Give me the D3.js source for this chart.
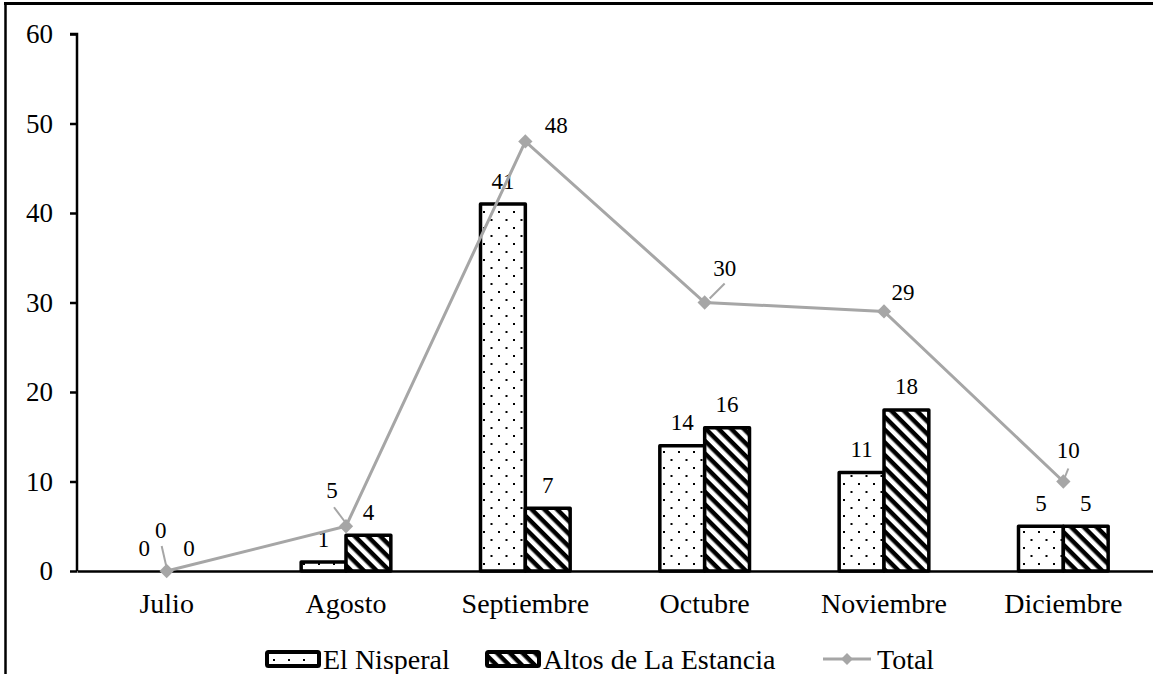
<!DOCTYPE html>
<html>
<head>
<meta charset="utf-8">
<script src="https://cdn.jsdelivr.net/npm/d3@7/dist/d3.min.js"></script>
<style>
  html, body { margin: 0; padding: 0; background: #fff; }
</style>
</head>
<body>
<svg id="chart" width="1153" height="674"></svg>
<script>
// Monthly counts per site, with the combined total
const months = ["Julio", "Agosto", "Septiembre", "Octubre", "Noviembre", "Diciembre"];
const nisperal = [0, 1, 41, 14, 11, 5];
const altos = [0, 4, 7, 16, 18, 5];
const total = [0, 5, 48, 30, 29, 10];
const yTicks = [0, 10, 20, 30, 40, 50, 60];
const seriesNames = ["El Nisperal", "Altos de La Estancia", "Total"];

const FONT = '"Liberation Serif"';
const svg = d3.select("#chart");
const W = 1153, H = 674;
const margin = { left: 77, right: 0, top: 34, bottom: 103 };

// Frame lines (left and top)
svg.append("line").attr("x1", 5.5).attr("x2", 5.5).attr("y1", 2).attr("y2", H)
  .attr("stroke", "#000").attr("stroke-width", 2.5);
svg.append("line").attr("x1", 4).attr("x2", W).attr("y1", 3.5).attr("y2", 3.5)
  .attr("stroke", "#000").attr("stroke-width", 3);

const x = d3.scaleBand().domain(months).range([margin.left, W - margin.right]).paddingInner(0).paddingOuter(0);
const y = d3.scaleLinear().domain([0, 60]).range([H - margin.bottom, margin.top]);
const barW = x.bandwidth() * 0.25;

// Fill patterns
const defs = svg.append("defs");
const dots = defs.append("pattern").attr("id", "dots").attr("patternUnits", "userSpaceOnUse")
  .attr("width", 15).attr("height", 16);
dots.append("rect").attr("width", 15).attr("height", 16).attr("fill", "#fff");
dots.append("rect").attr("x", 3).attr("y", 3).attr("width", 2).attr("height", 2).attr("fill", "#000");
dots.append("rect").attr("x", 10.5).attr("y", 11).attr("width", 2).attr("height", 2).attr("fill", "#000");

const stripes = defs.append("pattern").attr("id", "stripes").attr("patternUnits", "userSpaceOnUse")
  .attr("width", 9).attr("height", 9).attr("patternTransform", "rotate(45)");
stripes.append("rect").attr("width", 9).attr("height", 9).attr("fill", "#fff");
stripes.append("rect").attr("x", 0).attr("y", 0).attr("width", 9).attr("height", 4.5).attr("fill", "#000");

// Y axis
const yAxis = d3.axisLeft(y).tickValues(yTicks).tickSize(7).tickPadding(17);
const gy = svg.append("g").attr("transform", `translate(${margin.left},0)`).call(yAxis)
  .attr("font-family", null).attr("font-size", null);
gy.select(".domain").attr("stroke", "#000").attr("stroke-width", 2.5).attr("d", `M-7,${y(60)}H0V${y(0)}`);
gy.selectAll(".tick line").attr("stroke", "#000").attr("stroke-width", 2.5);
gy.selectAll(".tick text").style("font-size", "27px");

// Bars
const bars = svg.append("g");
const barStroke = 3.5;
function drawBars(vals, offset, fill) {
  bars.selectAll(null).data(months.map((m, i) => ({ m, v: vals[i] })).filter(d => d.v > 0))
    .enter().append("rect")
    .attr("x", d => x(d.m) + x.bandwidth() / 2 + offset)
    .attr("y", d => y(d.v))
    .attr("width", barW)
    .attr("height", d => y(0) - y(d.v))
    .attr("fill", fill)
    .attr("stroke", "#000")
    .attr("stroke-width", barStroke)
    .attr("stroke-linejoin", "round");
}
drawBars(nisperal, -barW, "url(#dots)");
drawBars(altos, 0, "url(#stripes)");

// X axis baseline
const xAxis = d3.axisBottom(x).tickSize(0).tickPadding(22);
const gx = svg.append("g").attr("transform", `translate(0,${y(0)})`).call(xAxis)
  .attr("font-family", null).attr("font-size", null);
gx.select(".domain").attr("stroke", "#000").attr("stroke-width", 2.5);
gx.selectAll(".tick text").style("font-size", "28px");

// Bar value labels
const labelSize = "23px";
months.forEach((m, i) => {
  const cx = x(m) + x.bandwidth() / 2;
  svg.append("text").attr("x", cx - barW / 2).attr("y", y(nisperal[i]) - 23).attr("text-anchor", "middle")
    .attr("dominant-baseline", "central").style("font-size", labelSize).text(nisperal[i]);
  svg.append("text").attr("x", cx + barW / 2).attr("y", y(altos[i]) - 23).attr("text-anchor", "middle")
    .attr("dominant-baseline", "central").style("font-size", labelSize).text(altos[i]);
});

// Total line
const grey = "#a6a6a6";
const line = d3.line().x((d, i) => x(months[i]) + x.bandwidth() / 2).y(d => y(d));
svg.append("path").datum(total).attr("d", line).attr("fill", "none")
  .attr("stroke", grey).attr("stroke-width", 3);

// Total labels: offset and optional leader line
const totalLabelOffsets = [
  { dx: -6, dy: -41, leader: [[-5, -25], [0, -3]] },
  { dx: -14, dy: -36, leader: [[-12, -19], [0, -3]] },
  { dx: 31, dy: -15.5, leader: null },
  { dx: 20, dy: -34, leader: [[20, -19], [5, -4]] },
  { dx: 19, dy: -18.5, leader: null },
  { dx: 5, dy: -31, leader: [[5, -13], [1, -3]] }
];
total.forEach((v, i) => {
  const px = x(months[i]) + x.bandwidth() / 2, py = y(v);
  const o = totalLabelOffsets[i];
  if (o.leader) {
    svg.append("line").attr("x1", px + o.leader[0][0]).attr("y1", py + o.leader[0][1])
      .attr("x2", px + o.leader[1][0]).attr("y2", py + o.leader[1][1])
      .attr("stroke", grey).attr("stroke-width", 2);
  }
  svg.append("path").attr("d", d3.symbol(d3.symbolDiamond2, 130)())
    .attr("transform", `translate(${px},${py})`).attr("fill", grey);
  svg.append("text").attr("x", px + o.dx).attr("y", py + o.dy).attr("text-anchor", "middle")
    .attr("dominant-baseline", "central").style("font-size", labelSize).text(v);
});

// Legend
const ly = 659;
const leg = svg.append("g");
function swatch(x0, fill) {
  leg.append("rect").attr("x", x0).attr("y", ly - 7).attr("width", 52).attr("height", 14)
    .attr("fill", fill).attr("stroke", "#000").attr("stroke-width", 4).attr("rx", 1.5);
}
swatch(267, "url(#dots)");
leg.append("text").attr("x", 323).attr("y", ly).attr("dominant-baseline", "central")
  .style("font-size", "28px").text(seriesNames[0]);
swatch(487, "url(#stripes)");
leg.append("text").attr("x", 543).attr("y", ly).attr("dominant-baseline", "central")
  .style("font-size", "28px").text(seriesNames[1]);
leg.append("line").attr("x1", 823).attr("x2", 871).attr("y1", ly).attr("y2", ly)
  .attr("stroke", grey).attr("stroke-width", 3);
leg.append("path").attr("d", d3.symbol(d3.symbolDiamond2, 90)())
  .attr("transform", `translate(847,${ly})`).attr("fill", grey);
leg.append("text").attr("x", 877).attr("y", ly).attr("dominant-baseline", "central")
  .style("font-size", "28px").text(seriesNames[2]);

// Serif face for every label
svg.selectAll("text").style("font-family", FONT).attr("fill", "#000");
</script>
</body>
</html>
